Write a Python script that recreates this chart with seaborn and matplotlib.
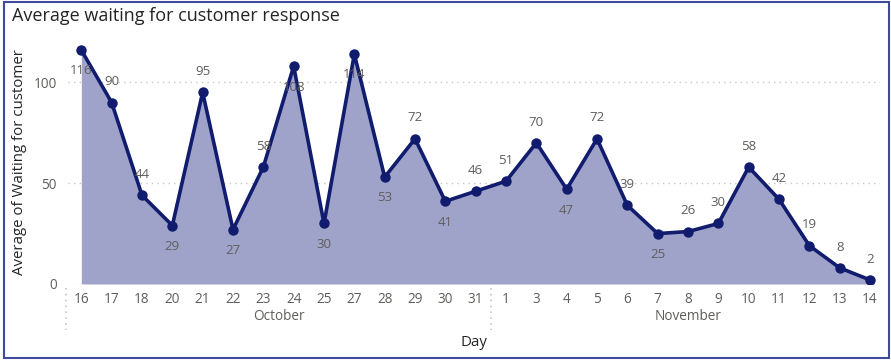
import matplotlib
matplotlib.use("Agg")
import matplotlib.pyplot as plt
import matplotlib.transforms as mtransforms
import seaborn as sns
import numpy as np

# Chart data
days = ["16", "17", "18", "20", "21", "22", "23", "24", "25", "27", "28", "29", "30", "31",
        "1", "3", "4", "5", "6", "7", "8", "9", "10", "11", "12", "13", "14"]
months = ["October"] * 14 + ["November"] * 13
wait_values = [116, 90, 44, 29, 95, 27, 58, 108, 30, 114, 53, 72, 41, 46,
               51, 70, 47, 72, 39, 25, 26, 30, 58, 42, 19, 8, 2]
# label placement as in the report: above (1) or below (-1) the point
label_side = [-1, 1, 1, -1, 1, -1, 1, -1, -1, -1, -1, 1, -1, 1,
              1, 1, -1, 1, 1, -1, 1, 1, 1, 1, 1, 1, 1]

line_col = "#111C6E"
fill_col = "#A0A3C9"
text_col = "#605E5C"

sns.set_theme(style="white")
plt.rcParams["font.family"] = ["Open Sans", "DejaVu Sans"]

fig = plt.figure(figsize=(8.91, 3.62), dpi=100)
ax = fig.add_axes([0.0763, 0.2155, 0.9114, 0.674])

x = np.arange(len(days))
ax.fill_between(x, wait_values, 0, color=fill_col, lw=0, zorder=1)
sns.lineplot(x=x, y=wait_values, ax=ax, color=line_col, linewidth=2.6,
             marker="o", markersize=7.5, markeredgewidth=0, zorder=3)

# data labels
for xi, v, s in zip(x, wait_values, label_side):
    ax.annotate(str(v), (xi, v), xytext=(0, 15 * s), textcoords="offset points",
                ha="center", va="center", fontsize=9.5, color=text_col, zorder=4)

ax.set_xlim(-0.44, len(days) - 1 + 0.33)
ax.set_ylim(0, 121)
ax.set_yticks([0, 50, 100])
ax.set_xticks(x)
ax.set_xticklabels(days)
ax.tick_params(axis="both", length=0, labelsize=9.8, labelcolor=text_col)
ax.tick_params(axis="x", pad=6)
ax.tick_params(axis="y", pad=8)
for sp in ax.spines.values():
    sp.set_visible(False)
ax.yaxis.grid(True, linestyle=(0, (1, 3)), color="#C8C6C4", linewidth=1)
ax.set_axisbelow(True)

ax.set_ylabel("Average of Waiting for customer", fontsize=10.8, color="#252423", labelpad=5)
ax.set_xlabel("Day", fontsize=10.8, color="#252423", labelpad=20)

# month group labels and separators
trans = mtransforms.blended_transform_factory(ax.transData, ax.transAxes)
month_names = list(dict.fromkeys(months))
for m in month_names:
    idx = [i for i, mm in enumerate(months) if mm == m]
    ax.text((idx[0] + idx[-1]) / 2, -0.135, m, transform=trans, ha="center", va="center",
            fontsize=9.8, color=text_col)
split = months.index("November") - 0.5
for sx in [-0.52, split]:
    ax.plot([sx, sx], [-0.015, -0.19], transform=trans, clip_on=False,
            color="#C8C6C4", linestyle=(0, (1, 2.5)), linewidth=1.2)

fig.text(0.0135, 0.955, "Average waiting for customer response", fontsize=13,
         color="#252423", ha="left", va="center")

# visual border
fig.patches.append(plt.Rectangle((0.005, 0.01), 0.993, 0.985, transform=fig.transFigure,
                                 fill=False, edgecolor="#3F4A9A", linewidth=1.5))

fig.savefig("out.png", dpi=100)
